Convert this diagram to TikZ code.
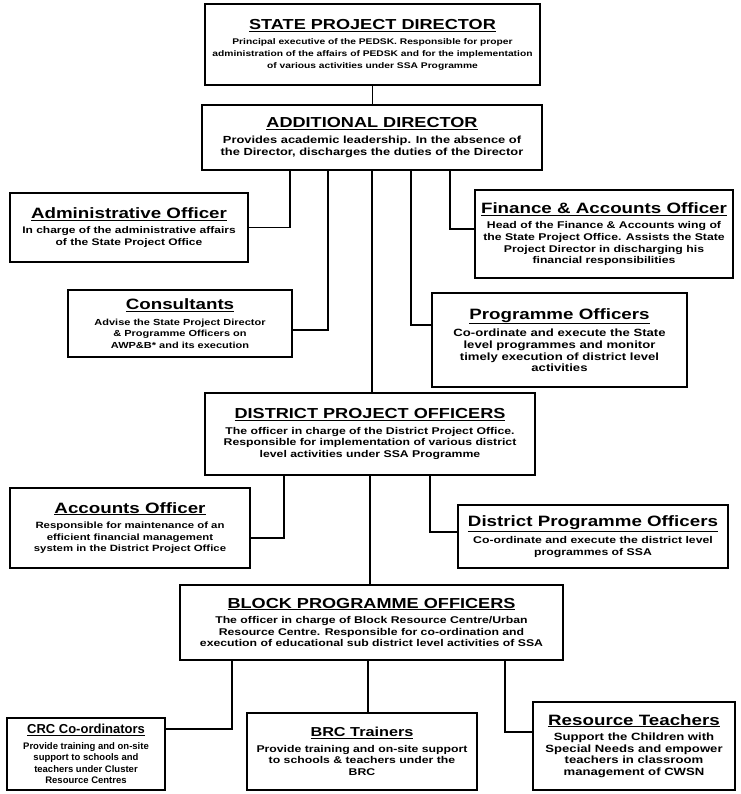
\documentclass[tikz,border=0pt]{standalone}
\usepackage{fontspec}
\setmainfont{Liberation Sans}[FakeStretch=1.25]
\newfontfamily\plainsans{Liberation Sans}
\usetikzlibrary{positioning}
\newcommand{\bigtitle}[1]{{\fontsize{14.5}{18}\selectfont\underline{#1}}}
\newcommand{\subtitle}[1]{{\fontsize{15}{18}\selectfont\underline{#1}}}

\begin{document}
\begin{tikzpicture}[
        x=1pt, y=-1pt,
        box/.style={draw, line width=1.5pt, align=center, inner sep=2pt, font=\bfseries\fontsize{#1}{11.6}\selectfont},
        box/.default=9.8,
        link/.style={line width=1.5pt}
    ]
        \useasboundingbox (0,0) rectangle (740,794);

        % state level
        \node[box=8.2, minimum width=335pt, minimum height=81pt] (spd) at (372.5,44.5)
            {\bigtitle{STATE PROJECT DIRECTOR}\\[4pt]
             Principal executive of the PEDSK. Responsible for proper\\
             administration of the affairs of PEDSK and for the implementation\\
             of various activities under SSA Programme};
        \node[box=10.3, minimum width=340pt, minimum height=65pt] (ad) at (372,137.5)
            {\bigtitle{ADDITIONAL DIRECTOR}\\[4pt]
             Provides academic leadership. In the absence of\\
             the Director, discharges the duties of the Director};
        \node[box=9.6, minimum width=238pt, minimum height=69pt] (admin) at (129,227.5)
            {\subtitle{Administrative Officer}\\[4pt]
             In charge of the administrative affairs\\
             of the State Project Office};
        \node[box, minimum width=258pt, minimum height=88pt] (fin) at (604,234)
            {\subtitle{Finance \& Accounts Officer}\\[4pt]
             Head of the Finance \& Accounts wing of\\
             the State Project Office. Assists the State\\
             Project Director in discharging his\\
             financial responsibilities};
        \node[box=8.8, minimum width=224pt, minimum height=67pt] (cons) at (180,323.5)
            {\subtitle{Consultants}\\[4pt]
             Advise the State Project Director\\
             \& Programme Officers on\\
             AWP\&B* and its execution};
        \node[box=10.5, minimum width=255pt, minimum height=94pt] (po) at (559.5,340)
            {\subtitle{Programme Officers}\\[4pt]
             Co-ordinate and execute the State\\
             level programmes and monitor\\
             timely execution of district level\\
             activities};

        % district level
        \node[box, minimum width=330pt, minimum height=82pt] (dpo) at (370,434)
            {\bigtitle{DISTRICT PROJECT OFFICERS}\\[4pt]
             The officer in charge of the District Project Office.\\
             Responsible for implementation of various district\\
             level activities under SSA Programme};
        \node[box=9.1, minimum width=240pt, minimum height=80pt] (acc) at (130,528)
            {\subtitle{Accounts Officer}\\[4pt]
             Responsible for maintenance of an\\
             efficient financial management\\
             system in the District Project Office};
        \node[box, minimum width=270pt, minimum height=63pt] (dprog) at (593,536.5)
            {\subtitle{District Programme Officers}\\[4pt]
             Co-ordinate and execute the district level\\
             programmes of SSA};

        % block level
        \node[box, minimum width=383pt, minimum height=75pt] (bpo) at (371.5,622.5)
            {\bigtitle{BLOCK PROGRAMME OFFICERS}\\[4pt]
             The officer in charge of Block Resource Centre/Urban\\
             Resource Centre. Responsible for co-ordination and\\
             execution of educational sub district level activities of SSA};
        \node[box, font=\plainsans\bfseries\fontsize{9.5}{11.6}\selectfont, minimum width=158pt, minimum height=72pt] (crc) at (86,754)
            {{\fontsize{13}{16}\selectfont\underline{CRC Co-ordinators}}\\[4pt]
             Provide training and on-site\\
             support to schools and\\
             teachers under Cluster\\
             Resource Centres};
        \node[box, minimum width=230pt, minimum height=77pt] (brc) at (362,751.5)
            {{\fontsize{13}{16}\selectfont\underline{BRC Trainers}}\\[4pt]
             Provide training and on-site support\\
             to schools \& teachers under the\\
             BRC};
        \node[box=10.5, minimum width=202pt, minimum height=88pt] (rt) at (634,746)
            {\subtitle{Resource Teachers}\\[4pt]
             Support the Children with\\
             Special Needs and empower\\
             teachers in classroom\\
             management of CWSN};

        % connectors
        \draw[link] (spd.south) -- (spd.south |- ad.north);
        \draw[link] (ad.south) -- (ad.south |- dpo.north);
        \draw[link] (dpo.south) -- (dpo.south |- bpo.north);
        \draw[link] (admin.east) -| ([xshift=-82pt]ad.south);
        \draw[link] ([yshift=-6.5pt]cons.east) -| ([xshift=-44pt]ad.south);
        \draw[link] ([yshift=5pt]fin.west) -| ([xshift=78pt]ad.south);
        \draw[link] ([yshift=15pt]po.west) -| ([xshift=39pt]ad.south);
        \draw[link] ([yshift=-10pt]acc.east) -| ([xshift=-86pt]dpo.south);
        \draw[link] ([yshift=4.5pt]dprog.west) -| ([xshift=60pt]dpo.south);
        \draw[link] ([yshift=25pt]crc.east) -| ([xshift=-139.5pt]bpo.south);
        \draw[link] ([xshift=-3.5pt]bpo.south) -- ([xshift=-3.5pt]bpo.south |- brc.north);
        \draw[link] ([yshift=14pt]rt.west) -| ([xshift=133.5pt]bpo.south);
    \end{tikzpicture}
\end{document}
